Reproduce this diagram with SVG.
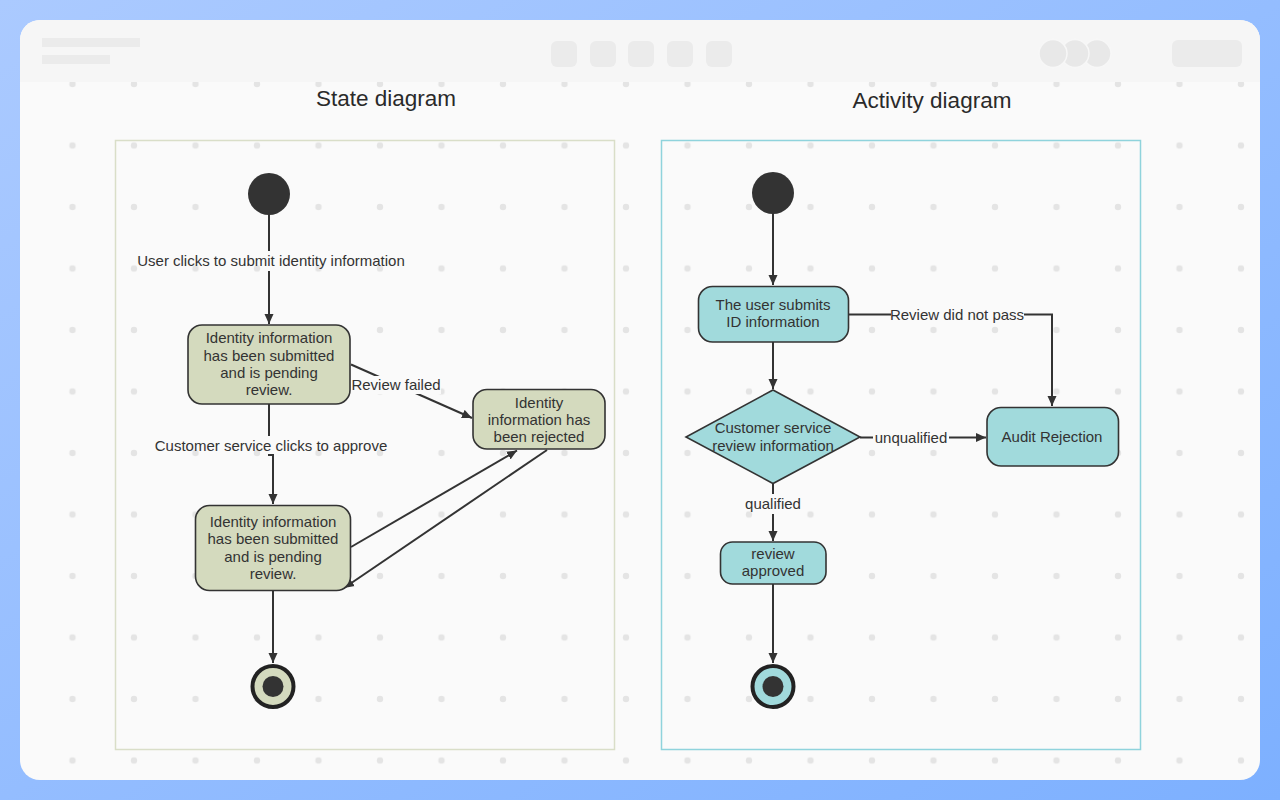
<svg xmlns="http://www.w3.org/2000/svg" width="1280" height="800" viewBox="0 0 1280 800">
<defs>
<linearGradient id="bg" x1="0" y1="0" x2="1" y2="1">
<stop offset="0" stop-color="#abcaff"/>
<stop offset="1" stop-color="#7db0ff"/>
</linearGradient>
<pattern id="dots" x="72.5" y="84" width="61.5" height="61.5" patternUnits="userSpaceOnUse">
<circle cx="0" cy="0" r="3.2" fill="#e4e4e4"/>
<circle cx="61.5" cy="0" r="3.2" fill="#e4e4e4"/>
<circle cx="0" cy="61.5" r="3.2" fill="#e4e4e4"/>
<circle cx="61.5" cy="61.5" r="3.2" fill="#e4e4e4"/>
</pattern>
<marker id="arr" viewBox="0 0 10 10" refX="10" refY="5" markerWidth="10" markerHeight="10" markerUnits="userSpaceOnUse" orient="auto">
<path d="M0,0.5 L10,5 L0,9.5 Z" fill="#333"/>
</marker>
<clipPath id="cardclip"><rect x="20" y="20" width="1240" height="760" rx="20"/></clipPath>
</defs>
<style>
.t{font-family:"Liberation Sans",Arial,sans-serif;font-size:15px;fill:#333;text-anchor:middle}
.title{font-family:"Liberation Sans",Arial,sans-serif;font-size:22.5px;fill:#2a2a2a;text-anchor:middle}
.ln{stroke:#333;stroke-width:2;fill:none}
.st{fill:#d4dabe;stroke:#333;stroke-width:1.6}
.ac{fill:#a1dadc;stroke:#333;stroke-width:1.6}
.lbl{fill:#fafafa}
.hb{fill:#ebebeb}
</style>
<rect width="1280" height="800" fill="url(#bg)"/>
<rect x="20" y="20" width="1240" height="760" rx="20" fill="#fafafa"/>
<rect x="20" y="20" width="1240" height="760" fill="url(#dots)" clip-path="url(#cardclip)"/>
<g clip-path="url(#cardclip)">
<rect x="20" y="20" width="1240" height="62" fill="#f6f6f6"/>
</g>
<g id="header">
<rect class="hb" x="42" y="38" width="98" height="9"/>
<rect class="hb" x="42" y="55" width="68" height="9"/>
<rect class="hb" x="551" y="41" width="26" height="26" rx="6"/>
<rect class="hb" x="590" y="41" width="26" height="26" rx="6"/>
<rect class="hb" x="628" y="41" width="26" height="26" rx="6"/>
<rect class="hb" x="667" y="41" width="26" height="26" rx="6"/>
<rect class="hb" x="706" y="41" width="26" height="26" rx="6"/>
<ellipse cx="1097" cy="53.5" rx="14" ry="14" fill="#e8e8e8" stroke="#f7f7f7" stroke-width="1.5"/>
<ellipse cx="1075" cy="53.5" rx="14" ry="14" fill="#e8e8e8" stroke="#f7f7f7" stroke-width="1.5"/>
<ellipse cx="1053" cy="53.5" rx="14" ry="14" fill="#e8e8e8" stroke="#f7f7f7" stroke-width="1.5"/>
<rect class="hb" x="1172" y="40" width="70" height="27" rx="6"/>
</g>
<text class="title" x="386" y="106">State diagram</text>
<text class="title" x="932" y="108">Activity diagram</text>
<rect id="state-frame" x="115.5" y="140.5" width="499" height="609" fill="none" stroke="#d9dec8" stroke-width="1.5"/>
<rect id="activity-frame" x="661.5" y="140.5" width="479" height="609" fill="none" stroke="#8fd3dc" stroke-width="1.5"/>

<g id="connectors">
<!-- state diagram -->
<line class="ln" x1="269" y1="215" x2="269" y2="324" marker-end="url(#arr)"/>
<rect class="lbl" x="263" y="251" width="12" height="20"/>
<text class="t" x="271" y="266">User clicks to submit identity information</text>
<polyline class="ln" points="269,404 269,455 273,455 273,504" marker-end="url(#arr)"/>
<rect class="lbl" x="262" y="436" width="16" height="18"/>
<text class="t" x="271" y="451">Customer service clicks to approve</text>
<line class="ln" x1="351" y1="364.5" x2="472" y2="418" marker-end="url(#arr)"/>
<rect class="lbl" x="351" y="376" width="90" height="18"/>
<text class="t" x="396" y="390">Review failed</text>
<line class="ln" x1="351" y1="547" x2="517" y2="450.5" marker-end="url(#arr)"/>
<line class="ln" x1="547" y1="450" x2="344" y2="588" marker-end="url(#arr)"/>
<line class="ln" x1="273" y1="591" x2="273" y2="663" marker-end="url(#arr)"/>
<!-- activity diagram -->
<line class="ln" x1="773" y1="214" x2="773" y2="285" marker-end="url(#arr)"/>
<line class="ln" x1="773" y1="342" x2="773" y2="389" marker-end="url(#arr)"/>
<polyline class="ln" points="848,314.5 1052,314.5 1052,406" marker-end="url(#arr)"/>
<rect class="lbl" x="891" y="306" width="133" height="18"/>
<text class="t" x="957" y="320">Review did not pass</text>
<line class="ln" x1="860" y1="437.5" x2="986" y2="437.5" marker-end="url(#arr)"/>
<rect class="lbl" x="873" y="429" width="76" height="18"/>
<text class="t" x="911" y="443">unqualified</text>
<line class="ln" x1="773" y1="484" x2="773" y2="541" marker-end="url(#arr)"/>
<rect class="lbl" x="767" y="494" width="12" height="20"/>
<text class="t" x="773" y="509">qualified</text>
<line class="ln" x1="773" y1="584" x2="773" y2="663" marker-end="url(#arr)"/>
</g>

<g id="s-start"><circle cx="269" cy="194" r="21" fill="#333"/></g>
<g id="s-pending1">
<rect class="st" x="188" y="325" width="162" height="79" rx="14"/>
<text class="t" x="269" y="343">Identity information</text>
<text class="t" x="269" y="361">has been submitted</text>
<text class="t" x="269" y="378">and is pending</text>
<text class="t" x="269" y="395">review.</text>
</g>
<g id="s-rejected">
<rect class="st" x="473" y="389.5" width="132" height="59.5" rx="14"/>
<text class="t" x="539" y="408">Identity</text>
<text class="t" x="539" y="425">information has</text>
<text class="t" x="539" y="442">been rejected</text>
</g>
<g id="s-pending2">
<rect class="st" x="195.5" y="505.5" width="155" height="85" rx="14"/>
<text class="t" x="273" y="527">Identity information</text>
<text class="t" x="273" y="544">has been submitted</text>
<text class="t" x="273" y="562">and is pending</text>
<text class="t" x="273" y="579">review.</text>
</g>
<g id="s-end">
<circle cx="273" cy="686.5" r="20.5" fill="#d4dabe" stroke="#222" stroke-width="4"/>
<circle cx="273" cy="686.5" r="10.5" fill="#333"/>
</g>

<g id="a-start"><circle cx="773" cy="193" r="21" fill="#333"/></g>
<g id="a-submit">
<rect class="ac" x="698.5" y="286.5" width="150" height="55.5" rx="14"/>
<text class="t" x="773" y="310">The user submits</text>
<text class="t" x="773" y="327">ID information</text>
</g>
<g id="a-review">
<polygon class="ac" points="773,390 860,437 773,483.5 686,437"/>
<text class="t" x="773" y="433">Customer service</text>
<text class="t" x="773" y="451">review information</text>
</g>
<g id="a-rejection">
<rect class="ac" x="987" y="407.5" width="131.5" height="58.5" rx="14"/>
<text class="t" x="1052" y="442">Audit Rejection</text>
</g>
<g id="a-approved">
<rect class="ac" x="720.5" y="542" width="105.5" height="42" rx="12"/>
<text class="t" x="773" y="559">review</text>
<text class="t" x="773" y="576">approved</text>
</g>
<g id="a-end">
<circle cx="773" cy="686.5" r="20.5" fill="#a1dadc" stroke="#222" stroke-width="4"/>
<circle cx="773" cy="686.5" r="10.5" fill="#333"/>
</g>
</svg>
